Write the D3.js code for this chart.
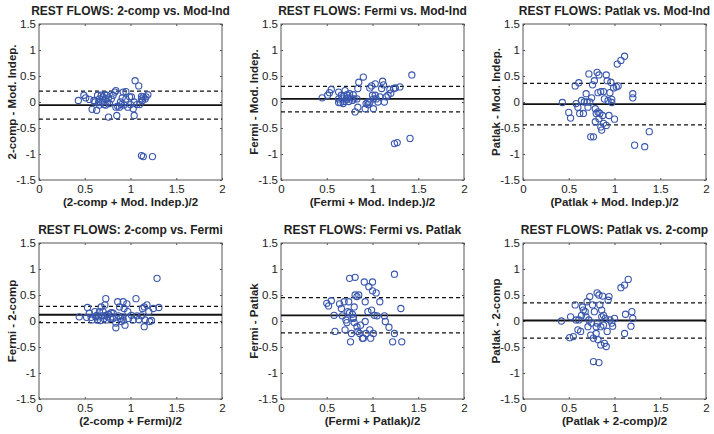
<!DOCTYPE html>
<html>
<head>
<meta charset="utf-8">
<script src="https://cdn.jsdelivr.net/npm/d3@7"></script>
<style>
  body { margin: 0; background: #fff; }
  text { font-family: "Liberation Sans", Arial, sans-serif; fill: #222; }
  .tick line { stroke: #555; }
</style>
</head>
<body>
<div id="chart"></div>
<script>
// panel texts
var titles = ["REST FLOWS: 2-comp vs. Mod-Ind", "REST FLOWS: Fermi vs. Mod-Ind", "REST FLOWS: Patlak vs. Mod-Ind",
              "REST FLOWS: 2-comp vs. Fermi", "REST FLOWS: Fermi vs. Patlak", "REST FLOWS: Patlak vs. 2-comp"];
var xLabels = ["(2-comp + Mod. Indep.)/2", "(Fermi + Mod. Indep.)/2", "(Patlak + Mod. Indep.)/2",
               "(2-comp + Fermi)/2", "(Fermi + Patlak)/2", "(Patlak + 2-comp)/2"];
var yLabels = ["2-comp - Mod. Indep.", "Fermi - Mod. Indep.", "Patlak - Mod. Indep.",
               "Fermi - 2-comp", "Fermi - Patlak", "Patlak - 2-comp"];
var xTicks = [0, 0.5, 1, 1.5, 2];
var yTicks = [-1.5, -1, -0.5, 0, 0.5, 1, 1.5];

// mean difference and limits of agreement
var meanDiff = [-0.06, 0.06, -0.04, 0.12, 0.11, 0.01];
var lowerLoA = [-0.33, -0.19, -0.44, -0.03, -0.23, -0.33];
var upperLoA = [0.21, 0.30, 0.36, 0.28, 0.45, 0.35];

// points [mean, difference]
var twoCompVsModInd = [[0.43,0.03],[0.49,0.13],[0.51,0.08],[0.55,0.05],[0.58,-0.14],[0.60,0.03],[0.63,-0.16],[0.61,0.0],
  [0.64,0.13],[0.66,0.06],[0.68,0.13],[0.70,0.10],[0.72,0.14],[0.66,-0.06],[0.69,0.0],[0.73,0.06],[0.74,0.13],[0.75,0.0],
  [0.76,0.08],[0.77,-0.03],[0.73,-0.06],[0.71,-0.05],[0.65,-0.01],[0.76,-0.29],[0.79,0.06],[0.81,0.13],[0.83,0.19],
  [0.84,0.22],[0.85,-0.26],[0.88,-0.10],[0.89,0.0],[0.90,-0.05],[0.91,0.08],[0.92,0.19],[0.93,-0.06],[0.95,0.06],
  [0.95,0.20],[0.97,-0.10],[0.99,0.10],[1.0,-0.05],[1.01,0.10],[1.03,-0.13],[1.04,-0.26],[1.04,0.0],[1.05,0.41],
  [1.07,-0.05],[1.09,0.31],[1.10,-0.05],[1.12,0.06],[1.12,0.11],[1.13,0.03],[1.14,0.10],[1.16,0.06],[1.17,0.10],
  [1.19,0.14],[1.12,-1.03],[1.14,-1.05],[1.24,-1.05],[0.84,-0.10],[0.86,-0.08]];
var fermiVsModInd = [[0.45,0.08],[0.51,0.13],[0.53,0.18],[0.55,0.24],[0.63,0.06],[0.63,0.19],[0.65,-0.01],[0.66,0.13],
  [0.67,0.06],[0.69,0.11],[0.70,0.22],[0.71,0.04],[0.72,0.14],[0.73,0.08],[0.74,0.01],[0.75,0.16],[0.76,0.08],[0.78,0.03],
  [0.79,0.14],[0.80,0.06],[0.81,-0.19],[0.83,0.06],[0.84,-0.10],[0.84,0.26],[0.85,0.38],[0.90,0.48],[0.92,-0.13],
  [0.93,-0.03],[0.95,0.0],[0.97,0.27],[0.99,0.31],[1.0,0.13],[1.01,0.06],[1.01,-0.13],[1.03,0.35],[1.03,0.13],[1.04,0.06],
  [1.06,0.0],[1.08,0.10],[1.10,0.26],[1.11,0.40],[1.12,0.33],[1.13,0.0],[1.15,0.10],[1.17,0.13],[1.19,0.24],[1.20,0.17],
  [1.23,0.26],[1.25,0.27],[1.30,0.29],[1.43,0.52],[1.24,-0.80],[1.27,-0.78],[1.41,-0.70],[0.68,-0.03],[0.63,-0.01],
  [0.97,-0.01],[0.95,-0.05],[0.69,0.01]];
var patlakVsModInd = [[0.43,-0.01],[0.50,-0.20],[0.52,-0.31],[0.57,0.31],[0.58,-0.03],[0.60,-0.10],[0.61,0.37],[0.62,-0.22],
  [0.64,0.03],[0.66,-0.22],[0.69,0.16],[0.70,0.0],[0.71,-0.10],[0.72,0.54],[0.73,0.0],[0.74,-0.67],[0.75,0.08],[0.76,0.33],
  [0.77,-0.67],[0.78,0.41],[0.79,-0.38],[0.80,-0.22],[0.81,0.57],[0.82,0.18],[0.83,-0.32],[0.83,0.52],[0.84,-0.22],
  [0.85,0.20],[0.85,-0.48],[0.86,-0.54],[0.87,-0.26],[0.88,0.20],[0.88,-0.41],[0.89,0.06],[0.91,-0.45],[0.91,0.52],
  [0.92,0.41],[0.93,0.03],[0.94,-0.26],[0.95,0.18],[0.96,0.38],[0.97,0.05],[0.97,-0.01],[0.99,0.27],[1.0,-0.33],[1.02,0.29],
  [1.03,0.73],[1.04,0.31],[1.07,0.80],[1.11,0.88],[1.20,0.16],[1.20,0.08],[1.22,-0.83],[1.33,-0.86],[1.38,-0.57],
  [0.79,-0.13],[0.67,0.0],[0.82,-0.19]];
var fermiVsTwoComp = [[0.44,0.08],[0.52,0.07],[0.53,0.26],[0.55,0.15],[0.57,0.07],[0.58,0.02],[0.61,0.18],[0.62,0.08],
  [0.63,0.11],[0.64,0.02],[0.65,0.08],[0.66,0.18],[0.67,0.01],[0.68,0.27],[0.69,0.10],[0.70,0.18],[0.71,0.05],[0.72,0.31],
  [0.73,0.11],[0.73,0.43],[0.74,0.02],[0.75,0.08],[0.76,0.13],[0.78,0.05],[0.79,0.16],[0.80,0.08],[0.81,0.15],[0.81,0.05],
  [0.84,-0.04],[0.84,-0.13],[0.86,0.37],[0.87,0.10],[0.88,0.27],[0.90,-0.01],[0.91,0.08],[0.92,0.37],[0.93,0.24],
  [0.94,-0.08],[0.96,0.33],[0.97,0.18],[0.98,0.05],[1.01,0.11],[1.03,0.02],[1.06,0.43],[1.07,0.10],[1.09,0.03],[1.12,0.10],
  [1.13,0.24],[1.15,-0.11],[1.15,0.27],[1.16,0.02],[1.18,0.31],[1.20,0.18],[1.21,-0.01],[1.23,0.01],[1.25,0.24],
  [1.29,0.82],[1.31,0.26],[0.89,0.05],[0.92,0.02]];
var fermiVsPatlak = [[0.50,0.34],[0.52,0.29],[0.55,0.39],[0.58,0.11],[0.59,-0.20],[0.64,0.33],[0.66,0.24],[0.67,0.10],
  [0.69,0.37],[0.70,-0.17],[0.71,0.02],[0.72,-0.03],[0.73,0.18],[0.74,0.37],[0.75,0.82],[0.75,0.16],[0.76,-0.40],
  [0.77,-0.24],[0.78,0.13],[0.79,0.07],[0.80,0.27],[0.81,0.84],[0.81,0.50],[0.83,0.47],[0.83,-0.11],[0.84,-0.20],
  [0.85,0.50],[0.86,-0.24],[0.87,-0.08],[0.89,-0.33],[0.90,-0.33],[0.91,0.75],[0.92,0.37],[0.92,-0.01],[0.93,-0.24],
  [0.95,0.18],[0.96,0.66],[0.97,-0.17],[0.98,-0.33],[0.99,0.21],[1.0,0.58],[1.0,0.75],[1.01,-0.24],[1.02,0.11],[1.04,0.54],
  [1.05,0.10],[1.08,0.37],[1.13,0.10],[1.14,-0.01],[1.18,-0.12],[1.22,-0.40],[1.24,-0.24],[1.24,0.90],[1.31,0.24],
  [1.32,-0.40],[0.79,0.05],[0.80,-0.03]];
var patlakVsTwoComp = [[0.42,0.0],[0.51,-0.32],[0.52,0.08],[0.55,-0.30],[0.57,0.31],[0.58,0.02],[0.60,-0.17],[0.61,0.02],
  [0.63,-0.20],[0.64,0.11],[0.65,0.27],[0.66,0.21],[0.68,0.18],[0.69,0.08],[0.70,0.37],[0.71,-0.11],[0.72,0.02],[0.73,0.47],
  [0.74,-0.27],[0.75,-0.04],[0.76,0.31],[0.77,-0.33],[0.77,-0.78],[0.78,0.18],[0.80,-0.11],[0.80,-0.24],[0.81,0.54],
  [0.82,-0.36],[0.83,-0.80],[0.83,0.50],[0.84,0.31],[0.85,-0.11],[0.85,-0.46],[0.86,0.21],[0.87,0.48],[0.88,-0.08],
  [0.88,0.11],[0.89,-0.43],[0.90,0.05],[0.91,-0.49],[0.92,-0.20],[0.93,0.40],[0.94,0.47],[0.95,0.02],[0.97,-0.04],
  [0.98,-0.10],[1.0,0.05],[1.07,0.64],[1.11,0.69],[1.11,-0.24],[1.12,0.13],[1.15,0.80],[1.18,-0.10],[1.19,0.18],
  [1.20,0.05],[0.86,0.08],[0.81,-0.04]];
var panelPoints = [twoCompVsModInd, fermiVsModInd, patlakVsModInd, fermiVsTwoComp, fermiVsPatlak, patlakVsTwoComp];

var W = 714, H = 434;
var pw = 183, ph = 156;
var lefts = [39, 281, 523], tops = [24, 243];

var svg = d3.select("#chart").append("svg")
  .attr("width", W).attr("height", H);

var fmt = function(d) { return String(d); };

panelPoints.forEach(function(pts, i) {
  var col = i % 3, row = Math.floor(i / 3);
  var g = svg.append("g")
    .attr("transform", "translate(" + lefts[col] + "," + tops[row] + ")");

  var x = d3.scaleLinear().domain([0, 2]).range([0, pw]);
  var y = d3.scaleLinear().domain([-1.5, 1.5]).range([ph, 0]);

  // axes, ticks pointing inward like matlab
  g.append("g").attr("transform", "translate(0," + ph + ")")
    .call(d3.axisBottom(x).tickValues(xTicks).tickFormat(fmt).tickSize(-2).tickPadding(5));
  g.append("g")
    .call(d3.axisLeft(y).tickValues(yTicks).tickFormat(fmt).tickSize(-2).tickPadding(3));
  g.append("g").call(d3.axisTop(x).tickValues(xTicks).tickFormat("").tickSize(-2));
  g.append("g").attr("transform", "translate(" + pw + ",0)")
    .call(d3.axisRight(y).tickValues(yTicks).tickFormat("").tickSize(-2));
  g.selectAll(".domain").remove();
  g.selectAll(".tick text").style("font-size", "11.5px").attr("fill", "#222");

  // box
  g.append("rect").attr("width", pw).attr("height", ph)
    .attr("fill", "none").attr("stroke", "#555").attr("stroke-width", 1);

  // mean and limits of agreement
  g.append("line").attr("x1", 0).attr("x2", pw)
    .attr("y1", y(meanDiff[i])).attr("y2", y(meanDiff[i]))
    .attr("stroke", "#111").attr("stroke-width", 1.8);
  [lowerLoA[i], upperLoA[i]].forEach(function(v) {
    g.append("line").attr("x1", 0).attr("x2", pw)
      .attr("y1", y(v)).attr("y2", y(v))
      .attr("stroke", "#111").attr("stroke-width", 1.3)
      .attr("stroke-dasharray", "4,3");
  });

  // points
  g.append("g").selectAll("circle")
    .data(pts)
    .enter()
    .append("circle")
      .attr("cx", function(d) { return x(d[0]); })
      .attr("cy", function(d) { return y(d[1]); })
      .attr("r", 3.1)
      .attr("fill", "none")
      .attr("stroke", "#3856ad")
      .attr("stroke-width", 1.1);

  // labels
  g.append("text")
    .attr("x", pw / 2).attr("y", -9)
    .attr("text-anchor", "middle")
    .style("font-size", "12px").style("font-weight", "bold")
    .text(titles[i]);
  g.append("text")
    .attr("x", pw / 2).attr("y", ph + 26)
    .attr("text-anchor", "middle")
    .style("font-size", "11.5px").style("font-weight", "bold")
    .text(xLabels[i]);
  g.append("text")
    .attr("transform", "rotate(-90)")
    .attr("x", -ph / 2).attr("y", -23)
    .attr("text-anchor", "middle")
    .style("font-size", "11.5px").style("font-weight", "bold")
    .text(yLabels[i]);
});
</script>
</body>
</html>
